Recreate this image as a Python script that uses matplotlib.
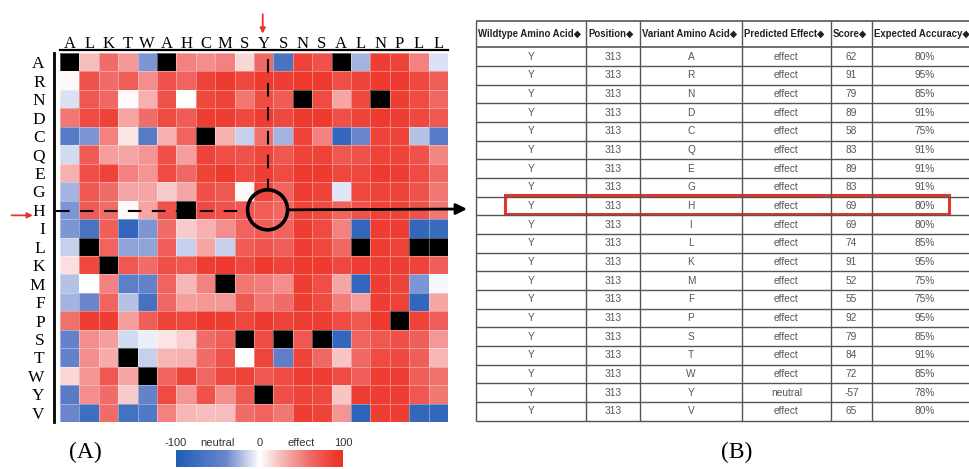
import numpy as np
import matplotlib
matplotlib.use('Agg')
import matplotlib.pyplot as plt
from matplotlib.colors import LinearSegmentedColormap
from matplotlib.patches import Ellipse, Rectangle

# ---- heatmap data (panel A) ----
wildtype_seq = ['A', 'L', 'K', 'T', 'W', 'A', 'H', 'C', 'M', 'S',
                'Y', 'S', 'N', 'S', 'A', 'L', 'N', 'P', 'L', 'L']
variant_aa = ['A', 'R', 'N', 'D', 'C', 'Q', 'E', 'G', 'H', 'I',
              'L', 'K', 'M', 'F', 'P', 'S', 'T', 'W', 'Y', 'V']

# rows = variant amino acid, columns = position in wildtype sequence
# (cells where variant == wildtype are drawn black)
scores = np.array([
    [  0,  25,  60,  40, -35,   0,  50,  45,  50,  15,  62, -65,  85,  75,   0, -25,  88,  85,  50, -10],  # A
    [  3,  75,  60,  68,  45,  75,  65,  85,  90,  82,  91,  88,  92,  92,  78,  85,  90,  90,  82,  68],  # R
    [-10,  72,  62,   2,  30,  75,   0,  82,  85,  55,  79,  70,   0,  80,  35,  82,   0,  88,  80,  62],  # N
    [ 55,  80,  85,  35,  60,  80,  70,  88,  88,  82,  89,  82,  90,  90,  78,  85,  90,  88,  82,  72],  # D
    [-55, -35,  50,  10, -55,  30,  65,   0,  30, -15,  58, -25,  85,  50, -85, -40,  85,  85, -20, -55],  # C
    [-12,  70,  38,  35,  42,  78,  38,  85,  78,  75,  83,  72,  85,  85,  72,  75,  85,  85,  75,  48],  # Q
    [ 30,  78,  85,  50,  42,  80,  62,  85,  90,  80,  89,  80,  90,  90,  82,  82,  90,  88,  80,  62],  # E
    [-25,  72,  60,  35,  35,  20,  35,  78,  72,   3,  83,  65,  88,  85,  -8,  82,  85,  85,  75,  55],  # G
    [-35,  70,  60,   3,  35,  75,   0,  80,  75,  72,  69,  62,  85,  80,  65,  75,  85,  85,  75,  55],  # H
    [-35, -65,  68, -85, -35,  60,  20,  30,  45,  65,  69,  65,  88,  80,  50, -85,  88,  88, -85, -80],  # I
    [-15,   0,  65, -30, -30,  68, -15,  35, -15,  70,  74,  68,  88,  82,  62,   0,  88,  85,   0,   0],  # L
    [ 12,  82,   0,  72,  60,  78,  72,  88,  92,  82,  91,  85,  90,  90,  82,  88,  88,  88,  85,  68],  # K
    [-20,   0,  50, -50, -45,  65,  28,  50,   0,  55,  52,  45,  88,  78,  35, -85,  88,  85, -35,  -3],  # M
    [-25, -40,  65, -20, -70,  62,  38,  40,  40,  72,  55,  60,  88,  80,  52,  38,  88,  85, -85,  35],  # F
    [ 58,  88,  88,  38,  68,  85,  82,  90,  88,  82,  92,  85,  88,  88,  80,  72,  90,   0,  85,  68],  # P
    [-45,  45,  38, -12,  -5,  10,  18,  60,  68,   0,  79,   0,  72,   0, -85,  65,  72,  78,  68,  40],  # S
    [-45,  45,  32,   0, -15,  28,  30,  60,  75,   0,  84, -50,  85,  62,  22,  62,  80,  82,  68,  28],  # T
    [ 15,  42,  72,  35,   0,  65,  85,  62,  82,  85,  72,  80,  88,  88,  80,  68,  88,  88,  68,  58],  # W
    [-55,  45,  60,  20, -45,  80,  42,  75,  45,  72,   0,  78,  85,  82,  22,  88,  88,  88,  72,  55],  # Y
    [-40, -75,  60, -70, -60,  50,  28,  25,  25,  60,  65,  55,  88,  85,  42, -88,  88,  88, -85, -85],  # V
], dtype=float)

# ---- table data (panel B) ----
tbl_header = ['Wildtype Amino Acid\u25c6', 'Position\u25c6', 'Variant Amino Acid\u25c6',
              'Predicted Effect\u25c6', 'Score\u25c6', 'Expected Accuracy\u25c6']
tbl_wildtype = 'Y'
tbl_position = 313
tbl_effect = ['effect'] * 18 + ['neutral', 'effect']
tbl_score = [62, 91, 79, 89, 58, 83, 89, 83, 69, 69, 74, 91, 52, 55, 92, 79, 84, 72, -57, 65]
tbl_accuracy = ['80%', '95%', '85%', '91%', '75%', '91%', '91%', '91%', '80%', '80%',
                '85%', '95%', '75%', '75%', '95%', '85%', '91%', '85%', '78%', '80%']
highlight_wt, highlight_var = 'Y', 'H'

W, H = 970, 469
fig = plt.figure(figsize=(W / 100, H / 100), dpi=100)

serif = ['Liberation Serif', 'DejaVu Serif']
sans = ['Liberation Sans', 'DejaVu Sans']

cmap = LinearSegmentedColormap.from_list('effect', [
    (0.0, '#1f5db5'), (0.3, '#6a85cc'), (0.5, '#ffffff'),
    (0.65, '#f6b0b0'), (0.8, '#f06c68'), (0.95, '#ee3b30'), (1.0, '#ee3226')])
cmap.set_bad('black')

# mask self-substitutions (variant == wildtype)
self_mask = np.array([[v == w for w in wildtype_seq] for v in variant_aa])
masked = np.ma.masked_where(self_mask, scores)

# ---- panel A: heatmap ----
ax = fig.add_axes([60 / W, 1 - 422 / H, 388 / W, 369 / H])
mesh = ax.pcolormesh(masked, cmap=cmap, vmin=-100, vmax=100,
                     edgecolors=(1, 1, 1, 0.35), linewidth=0.4)
ax.set_xlim(0, len(wildtype_seq))
ax.set_ylim(len(variant_aa), 0)

ax.xaxis.tick_top()
ax.tick_params(axis='x', length=0, pad=-1, labelsize=12,
               labelfontfamily='Liberation Serif')
ax.tick_params(axis='y', length=0, pad=7, labelsize=12.5,
               labelfontfamily='Liberation Serif')
ax.set_xticks(np.arange(len(wildtype_seq)) + 0.5)
ax.set_xticklabels(wildtype_seq)
ax.set_yticks(np.arange(len(variant_aa)) + 0.5)
ax.set_yticklabels(variant_aa, ha='center')
for s in ['bottom', 'right']:
    ax.spines[s].set_visible(False)
ax.spines['top'].set_linewidth(1.6)
ax.spines['top'].set_position(('outward', 2))
ax.spines['left'].set_linewidth(2)
ax.spines['left'].set_position(('outward', 4))

# highlight cell: wildtype Y column, variant H row
col = wildtype_seq.index(highlight_wt) + 0.7
row = variant_aa.index(highlight_var) + 0.5
rx, ry = 20 / 19.4, 20 / 18.45
ax.add_patch(Ellipse((col, row), 2 * rx, 2 * ry, fill=False, lw=2.6,
                     color='black', clip_on=False, zorder=5))
ax.plot([col, col], [0.3, row - ry], ls=(0, (6.5, 5)), lw=1.5,
        color='black', clip_on=False, zorder=5)
ax.plot([-0.2, col - rx], [row + 0.05, row + 0.05], ls=(0, (6.5, 5)),
        lw=1.5, color='black', clip_on=False, zorder=5)
ax.annotate('', xy=(467 / W, 1 - 209 / H), xycoords='figure fraction',
            xytext=(col + rx, row), textcoords='data',
            arrowprops=dict(arrowstyle='-|>', lw=2, color='black',
                            mutation_scale=16, shrinkA=0, shrinkB=0),
            annotation_clip=False, zorder=5)
# red pointer arrows
ax.annotate('', xy=(col - 0.25, -1.05), xytext=(col - 0.25, -2.1),
            arrowprops=dict(arrowstyle='-|>', lw=1.3, color='#e8332a',
                            mutation_scale=8, shrinkA=0, shrinkB=0),
            annotation_clip=False)
ax.annotate('', xy=(-1.4, row + 0.3), xytext=(-2.5, row + 0.3),
            arrowprops=dict(arrowstyle='-|>', lw=1.3, color='#e8332a',
                            mutation_scale=8, shrinkA=0, shrinkB=0),
            annotation_clip=False)

# colour bar
cax = fig.add_axes([176 / W, 1 - 467 / H, 167 / W, 17 / H])
cb = fig.colorbar(mesh, cax=cax, orientation='horizontal')
cb.outline.set_visible(False)
cb.set_ticks([])
for v, lab in [(-100, '-100'), (-50, 'neutral'), (0, '0'), (50, 'effect'), (100, '100')]:
    cax.text(v, 1.1, lab, ha='center', va='bottom', fontsize=8,
             fontfamily=sans, color='#333333', transform=cax.get_xaxis_transform())

# ---- panel B: table (pixel coordinates) ----
ov = fig.add_axes([0, 0, 1, 1], zorder=3)
ov.set_xlim(0, W)
ov.set_ylim(H, 0)
ov.axis('off')

col_edges = [476, 586, 640, 742, 831, 872, 980]
top, head_h = 21, 26.3
row_h = (420.7 - top - head_h) / len(variant_aa)
bottom = top + head_h + row_h * len(variant_aa)
line_c = '#555555'

ov.hlines(top, col_edges[0], col_edges[-1], color=line_c, lw=1.2)
ov.hlines(top + head_h, col_edges[0], col_edges[-1], color=line_c, lw=1.2)
for i in range(1, len(variant_aa) + 1):
    ov.hlines(top + head_h + i * row_h, col_edges[0], col_edges[-1], color=line_c, lw=1.0)
ov.vlines(col_edges[:-1], top, bottom, color=line_c, lw=1.0)

for j, h in enumerate(tbl_header):
    x0 = col_edges[j] + 2
    ov.text(x0, top + head_h / 2, h, ha='left', va='center', fontsize=6.9,
            fontweight='bold', fontfamily=sans, color='#222222')

for i, var in enumerate(variant_aa):
    cy = top + head_h + (i + 0.5) * row_h
    cells = [tbl_wildtype, str(tbl_position), var, tbl_effect[i],
             str(tbl_score[i]), tbl_accuracy[i]]
    for j, txt in enumerate(cells):
        cx = (col_edges[j] + col_edges[j + 1]) / 2
        if j == len(cells) - 1:
            cx = 925
        ov.text(cx, cy, txt, ha='center', va='center', fontsize=7.3,
                fontfamily=sans, color='#555555')

hi = variant_aa.index(highlight_var)
ov.add_patch(Rectangle((505, top + head_h + hi * row_h - 1.5), 444, row_h,
                       fill=False, ec='#e8332a', lw=2.2))

# panel labels
ov.text(85, 452, '(A)', ha='center', va='center', fontsize=17, fontfamily=serif)
ov.text(737, 452, '(B)', ha='center', va='center', fontsize=17, fontfamily=serif)

fig.savefig('out.png', dpi=100)
